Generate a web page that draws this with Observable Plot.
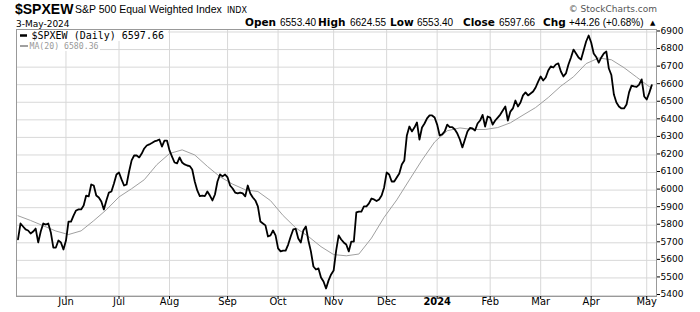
<!DOCTYPE html>
<html>
<head>
<meta charset="utf-8">
<script src="https://cdn.jsdelivr.net/npm/d3@7"></script>
<script src="https://cdn.jsdelivr.net/npm/@observablehq/plot@0.6"></script>
<style>
  body { margin: 0; background: #fff; }
  #wrap { position: relative; width: 700px; height: 312px; overflow: hidden; }
  #chart svg { display: block; }
  #ov { position: absolute; left: 0; top: 0; pointer-events: none; }
</style>
</head>
<body>
<div id="wrap">
  <div id="chart"></div>
  <svg id="ov" width="700" height="312" xmlns="http://www.w3.org/2000/svg">
    <text x="15" y="14" font-family="Liberation Sans, Arial, sans-serif" font-weight="bold" font-size="14">$SPXEW</text>
    <text x="75" y="13" font-family="Liberation Sans, Arial, sans-serif" font-size="10.5">S&amp;P 500 Equal Weighted Index</text>
    <text x="227" y="13" font-family="DejaVu Sans, sans-serif" font-size="8">INDX</text>
    <text x="657" y="11.5" text-anchor="end" font-family="DejaVu Sans, sans-serif" font-size="9" fill="#555">© StockCharts.com</text>
    <text x="16" y="26.5" font-family="DejaVu Sans, sans-serif" font-size="9">3-May-2024</text>
    <g font-size="10" font-family="Liberation Sans, Arial, sans-serif">
      <text x="245" y="26" font-family="DejaVu Sans, sans-serif" font-weight="bold" font-size="10.5">Open</text>
      <text x="280" y="26">6553.40</text>
      <text x="318" y="26" font-family="DejaVu Sans, sans-serif" font-weight="bold" font-size="10.5">High</text>
      <text x="350" y="26">6624.55</text>
      <text x="390" y="26" font-family="DejaVu Sans, sans-serif" font-weight="bold" font-size="10.5">Low</text>
      <text x="417" y="26">6553.40</text>
      <text x="463" y="26" font-family="DejaVu Sans, sans-serif" font-weight="bold" font-size="10.5">Close</text>
      <text x="499" y="26">6597.66</text>
      <text x="543" y="26" font-family="DejaVu Sans, sans-serif" font-weight="bold" font-size="10.5">Chg</text>
      <text x="569" y="26">+44.26 (+0.68%)</text>
      <text x="650" y="25" font-family="DejaVu Sans, sans-serif" font-size="7">▲</text>
    </g>
    <rect x="17" y="30" width="151" height="11" fill="#fff"/>
    <rect x="17" y="41" width="83" height="10" fill="#fff"/>
    <line x1="20" x2="27" y1="35.5" y2="35.5" stroke="#000" stroke-width="2.5"/>
    <text x="31.5" y="39" font-family="DejaVu Sans Mono, monospace" font-size="10">$SPXEW (Daily) 6597.66</text>
    <line x1="20" x2="28" y1="46" y2="46" stroke="#a0a0a0" stroke-width="2"/>
    <text x="29.5" y="49.3" font-family="DejaVu Sans Mono, monospace" font-size="8.2" fill="#999">MA(20) 6580.36</text>
  </svg>
</div>
<script>
// Trading-day index of the first session of each month (0 = 4-May-2023)
const monthLabels = ["Jun","Jul","Aug","Sep","Oct","Nov","Dec","2024","Feb","Mar","Apr","May"];
const monthIdx = [19,40,60,83,103,125,146,166,187,207,227,249];

const yTicks = [5400,5500,5600,5700,5800,5900,6000,6100,6200,6300,6400,6500,6600,6700,6800,6900];

// $SPXEW daily close, one value per trading day (index 0..251)
const dailyClose = [
  5719,5810,5793,5776,5770,5753,5764,5781,5702,5764,
  5810,5804,5810,5759,5673,5673,5713,5702,5662,5713,
  5821,5821,5855,5884,5890,5890,5912,5969,5964,6032,
  6026,5969,5958,5935,5890,5941,5986,5992,6038,6089,
  6100,6061,6026,6032,6106,6169,6197,6197,6186,6208,
  6237,6254,6260,6268,6277,6282,6288,6248,6282,6282,
  6226,6191,6157,6152,6186,6157,6146,6140,6137,6117,
  6049,5998,5966,5969,5966,5992,5969,5941,5975,6049,
  6089,6078,6089,6072,6026,6009,5986,5981,5986,5981,
  5964,6026,5981,5958,5941,5907,5821,5810,5799,5736,
  5742,5770,5742,5668,5651,5656,5656,5690,5736,5776,
  5779,5725,5702,5770,5793,5713,5651,5565,5548,5554,
  5503,5480,5440,5486,5520,5542,5656,5742,5719,5702,
  5690,5651,5707,5707,5873,5878,5878,5907,5907,5924,
  5952,5947,5938,5947,5969,6015,6100,6089,6049,6049,
  6072,6095,6146,6169,6311,6362,6334,6356,6385,6288,
  6356,6379,6408,6425,6425,6413,6373,6311,6317,6334,
  6373,6359,6359,6345,6322,6288,6243,6288,6334,6354,
  6351,6339,6379,6396,6428,6362,6419,6413,6373,6396,
  6413,6430,6453,6476,6396,6447,6465,6510,6476,6499,
  6539,6556,6539,6550,6561,6584,6618,6647,6624,6641,
  6681,6704,6698,6715,6721,6675,6647,6664,6715,6755,
  6800,6778,6755,6743,6795,6846,6880,6840,6778,6758,
  6726,6755,6778,6789,6692,6655,6544,6499,6476,6465,
  6465,6487,6556,6595,6590,6587,6601,6630,6533,6516,
  6553.40,6597.66
];

// MA(20) read at selected trading days
const maIdx = [0,5,10,15,20,25,30,35,40,45,50,55,60,65,70,75,80,85,90,95,100,105,110,115,120,125,130,135,140,145,150,155,160,165,170,175,180,185,190,195,200,205,210,215,220,225,230,235,240,245,250,251];
const maValues = [5854,5827,5797,5767,5747,5768,5826,5888,5961,6008,6059,6145,6208,6229,6200,6135,6076,6034,6002,5992,5940,5855,5785,5736,5678,5633,5626,5636,5727,5845,5944,6058,6171,6274,6338,6354,6345,6345,6356,6383,6427,6470,6527,6592,6645,6720,6752,6742,6697,6643,6589,6580.36];

const daily = dailyClose.map((v, i) => ({i, v}));
const ma = maIdx.map((i, k) => ({i, v: maValues[k]}));
const labels = monthIdx.map((i, k) => ({i, label: monthLabels[k]}));

const chart = Plot.plot({
  width: 700,
  height: 312,
  marginLeft: 16,
  marginRight: 44,
  marginTop: 29,
  marginBottom: 16,
  style: {background: "transparent", fontFamily: "DejaVu Sans, sans-serif", fontSize: "9px", color: "#000"},
  x: {domain: [-0.594, 252.87]},
  y: {domain: [5394.3, 6914.2]},
  marks: [
    Plot.gridY(yTicks, {stroke: "#d8d8d8", strokeOpacity: 1}),
    Plot.gridX(monthIdx, {stroke: "#d8d8d8", strokeOpacity: 1}),
    Plot.frame({stroke: "#999"}),
    Plot.axisY(yTicks, {anchor: "right", tickSize: 3, tickPadding: 1, fontSize: 9, tickFormat: d => String(d), dy: -1, label: null}),
    Plot.axisX(monthIdx, {anchor: "bottom", tickSize: 3, tickFormat: () => "", label: null}),
    Plot.text(labels.filter(d => d.label !== "2024"), {x: "i", text: "label", frameAnchor: "bottom", dy: 8, fontSize: 11, fontFamily: "Liberation Sans Narrow, DejaVu Sans Condensed, sans-serif"}),
    Plot.text(labels.filter(d => d.label === "2024"), {x: "i", text: "label", frameAnchor: "bottom", dy: 8, fontSize: 11, fontWeight: "bold", fontFamily: "Liberation Sans Narrow, DejaVu Sans Condensed, sans-serif"}),
    Plot.line(ma, {x: "i", y: "v", stroke: "#a0a0a0", strokeWidth: 1}),
    Plot.line(daily, {x: "i", y: "v", stroke: "#000", strokeWidth: 1.8})
  ]
});
document.getElementById("chart").appendChild(chart);
</script>
</body>
</html>
